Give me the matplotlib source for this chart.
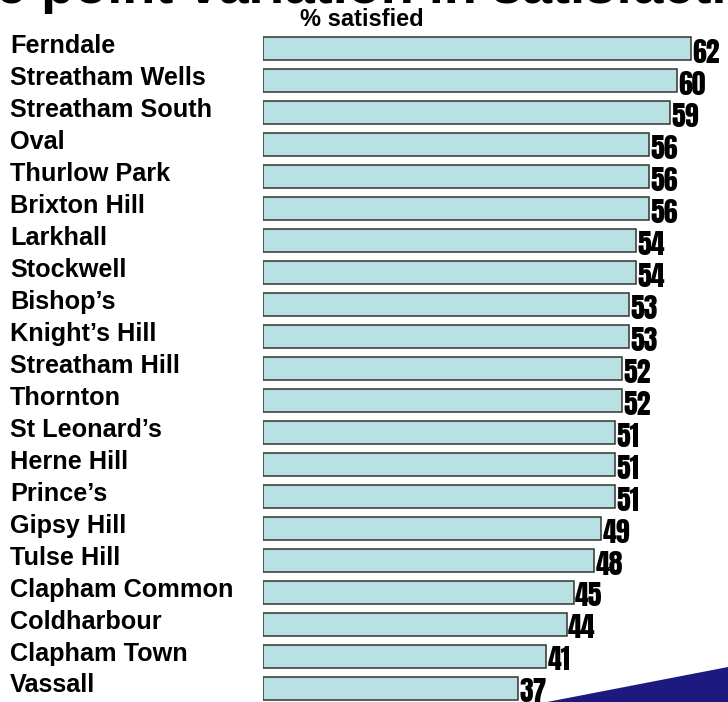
import matplotlib.pyplot as plt
from matplotlib.patches import Polygon
from matplotlib.transforms import blended_transform_factory

wards = ["Ferndale", "Streatham Wells", "Streatham South", "Oval", "Thurlow Park",
         "Brixton Hill", "Larkhall", "Stockwell", "Bishop\u2019s", "Knight\u2019s Hill",
         "Streatham Hill", "Thornton", "St Leonard\u2019s", "Herne Hill", "Prince\u2019s",
         "Gipsy Hill", "Tulse Hill", "Clapham Common", "Coldharbour", "Clapham Town",
         "Vassall"]
satisfied = [62, 60, 59, 56, 56, 56, 54, 54, 53, 53, 52, 52, 51, 51, 51, 49, 48,
             45, 44, 41, 37]

W, H = 728, 702
fig = plt.figure(figsize=(W / 100, H / 100), dpi=100)
fig.patch.set_facecolor("white")

# axes start at the bar base and run to the right edge
ax = fig.add_axes([263 / W, 0, 1 - 263 / W, 1])
ax.set_xlim(0, (W - 263) / 6.9)
ax.set_ylim((H - 48) / 32, -49 / 32)
ax.axis("off")

ys = list(range(len(wards)))
ax.barh(ys, satisfied, height=0.72, color="#b9e1e4", edgecolor="#333333", linewidth=1.1)

for y, v in zip(ys, satisfied):
    ax.text(v + 0.2, y + 0.12, str(v), ha="left", va="center", fontsize=20,
            family=["Anton", "DejaVu Sans"], color="black")

trans = blended_transform_factory(fig.transFigure, ax.transData)
for y, name in zip(ys, wards):
    ax.text(10 / W, y - 0.08, name, transform=trans, ha="left", va="center",
            fontsize=18.2, fontweight="bold", family="Liberation Sans", color="black")

fig.text(362 / W, 1 - 19 / H, "% satisfied", ha="center", va="center", fontsize=17,
         fontweight="bold", family="Liberation Sans")

# clipped slide title at the very top
fig.text(-4 / W, 1 - 3 / H, "e point variation in satisfaction", ha="left",
         va="baseline", fontsize=39, fontweight="bold", family="Liberation Sans")

# slide decoration in the bottom right corner
swoosh = Polygon([[547 / W, 0], [1, 0], [1, 1 - 667 / H]], closed=True,
                 transform=fig.transFigure, facecolor="#1c1a7e", edgecolor="none")
fig.patches.append(swoosh)

fig.savefig("out.png", dpi=100)
